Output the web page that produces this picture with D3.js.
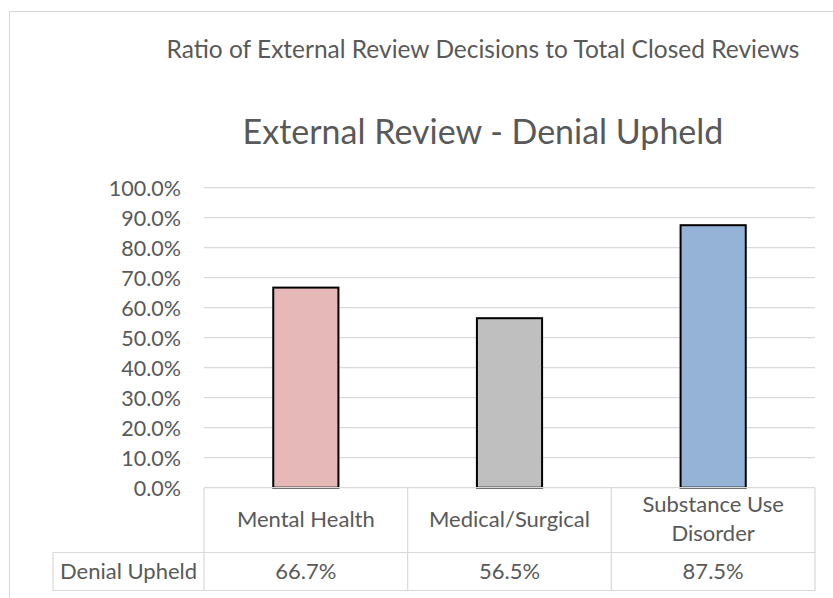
<!DOCTYPE html>
<html lang="en">
<head>
    <meta charset="UTF-8">
    <title>External Review - Denial Upheld</title>
    <script src="https://d3js.org/d3.v7.min.js"></script>
    <style>
        body { margin: 0; background: #fff; }
        text { font-family: Lato, "Open Sans", sans-serif; fill: #595959; }
    </style>
</head>
<body>
<script>
    var categories = ["Mental Health", "Medical/Surgical", "Substance Use Disorder"];
    var headerLines = [["Mental Health"], ["Medical/Surgical"], ["Substance Use", "Disorder"]];
    var denialUpheld = [0.667, 0.565, 0.875];
    var barColors = ["#E6B8B7", "#BFBFBF", "#95B3D7"];
    var yTicks = [0, 0.1, 0.2, 0.3, 0.4, 0.5, 0.6, 0.7, 0.8, 0.9, 1.0];
    var seriesName = "Denial Upheld";

    var w = 833, h = 598;
    var svg = d3.select("body").append("svg")
        .attr("width", w)
        .attr("height", h);

    // outer chart border
    svg.append("rect")
        .attr("x", 9.5).attr("y", 11.5)
        .attr("width", 900).attr("height", 700)
        .attr("fill", "none")
        .attr("stroke", "#D9D9D9");

    svg.append("text")
        .attr("x", 483).attr("y", 58)
        .attr("text-anchor", "middle")
        .style("font-size", "24.5px")
        .text("Ratio of External Review Decisions to Total Closed Reviews");

    svg.append("text")
        .attr("x", 483).attr("y", 144)
        .attr("text-anchor", "middle")
        .style("font-size", "34px")
        .text("External Review - Denial Upheld");

    var x = d3.scaleBand()
        .domain(categories)
        .range([204, 815])
        .paddingInner(0.68)
        .paddingOuter(0.34);

    var y = d3.scaleLinear()
        .domain([0, 1])
        .range([487.7, 187.7]);

    // gridlines
    svg.append("g")
        .selectAll("line")
        .data(yTicks.slice(1))
        .enter()
        .append("line")
        .attr("x1", 204).attr("x2", 815)
        .attr("y1", function(d) { return y(d); })
        .attr("y2", function(d) { return y(d); })
        .attr("stroke", "#D9D9D9")
        .attr("stroke-width", 1.2);

    // y axis labels
    var yAxis = d3.axisLeft(y)
        .tickValues(yTicks)
        .tickFormat(d3.format(".1%"))
        .tickSize(0)
        .tickPadding(23);
    var gy = svg.append("g")
        .attr("transform", "translate(204,0)")
        .call(yAxis);
    gy.select(".domain").remove();
    gy.selectAll("text")
        .style("font-size", "21.5px")
        .style("font-family", "Lato, sans-serif")
        .attr("fill", "#595959")
        .attr("dy", "0.36em");

    // bars
    svg.append("g")
        .selectAll("rect")
        .data(categories)
        .enter()
        .append("rect")
        .attr("x", function(d) { return x(d); })
        .attr("width", x.bandwidth())
        .attr("y", function(d, i) { return y(denialUpheld[i]); })
        .attr("height", function(d, i) { return y(0) - y(denialUpheld[i]); })
        .attr("fill", function(d, i) { return barColors[i]; })
        .attr("stroke", "#000")
        .attr("stroke-width", 2);

    // data table
    var step = x.step();
    var colLeft = function(d) { return x(d) - step * x.paddingInner() / 2; };
    var rowTop = y(0), rowMid = 552.5, rowBot = 590.5;
    var tbl = svg.append("g")
        .attr("stroke", "#D9D9D9")
        .attr("stroke-width", 1.2);
    tbl.append("line").attr("x1", 204).attr("x2", 815).attr("y1", rowTop).attr("y2", rowTop);
    tbl.append("line").attr("x1", 53).attr("x2", 815).attr("y1", rowMid).attr("y2", rowMid);
    tbl.append("line").attr("x1", 53).attr("x2", 815).attr("y1", rowBot).attr("y2", rowBot);
    tbl.append("line").attr("x1", 53).attr("x2", 53).attr("y1", rowMid).attr("y2", rowBot);
    tbl.selectAll("line.col")
        .data(categories)
        .enter()
        .append("line")
        .attr("class", "col")
        .attr("x1", colLeft).attr("x2", colLeft)
        .attr("y1", rowTop).attr("y2", rowBot);
    tbl.append("line").attr("x1", 815).attr("x2", 815).attr("y1", rowTop).attr("y2", rowBot);

    // header labels
    svg.append("g")
        .selectAll("text")
        .data(categories)
        .enter()
        .append("text")
        .attr("text-anchor", "middle")
        .style("font-size", "22px")
        .attr("y", function(d, i) { return headerLines[i].length > 1 ? 511.5 : 526.7; })
        .each(function(d, i) {
            var t = d3.select(this);
            headerLines[i].forEach(function(line, j) {
                t.append("tspan")
                    .attr("x", x(d) + x.bandwidth() / 2)
                    .attr("dy", j === 0 ? 0 : 29.5)
                    .text(line);
            });
        });

    // value row
    svg.append("text")
        .attr("x", 128.5).attr("y", 579)
        .attr("text-anchor", "middle")
        .style("font-size", "22px")
        .text(seriesName);

    svg.append("g")
        .selectAll("text")
        .data(categories)
        .enter()
        .append("text")
        .attr("x", function(d) { return x(d) + x.bandwidth() / 2; })
        .attr("y", 579)
        .attr("text-anchor", "middle")
        .style("font-size", "22px")
        .text(function(d, i) { return d3.format(".1%")(denialUpheld[i]); });
</script>
</body>
</html>
